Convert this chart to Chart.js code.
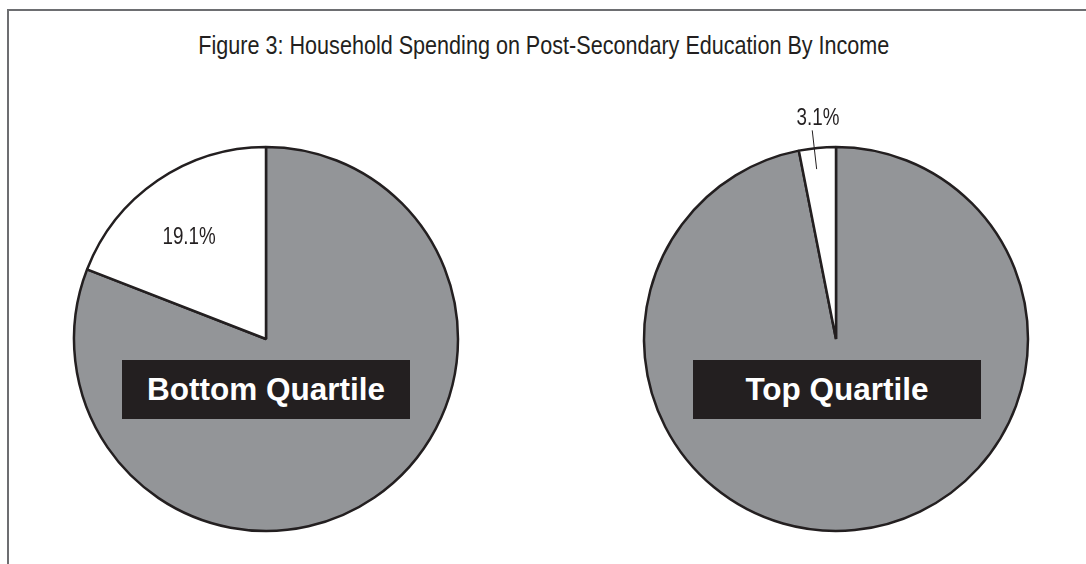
<!DOCTYPE html>
<html>
<head>
<meta charset="utf-8">
<script src="https://cdn.jsdelivr.net/npm/chart.js@4.4.1/dist/chart.umd.min.js"></script>
<style>
  html, body { margin: 0; padding: 0; background: #fff; }
  #page { position: relative; width: 1086px; height: 564px; overflow: hidden; }
  .frame-top { position: absolute; left: 7px; top: 9px; width: 1079px; height: 2px; background: #6d6e71; }
  .frame-left { position: absolute; left: 7px; top: 9px; width: 2px; height: 555px; background: #6d6e71; }
  /* no narrow face installed, so squeeze the regular one */
  #title {
    position: absolute; left: 0; top: 32px; width: 1086px; text-align: center;
    font: 26px/26px "Liberation Sans", Arial, sans-serif; color: #231f20;
    transform: scaleX(0.83); transform-origin: 548px 0;
    white-space: nowrap;
  }
  .pie { position: absolute; }
  .tag {
    position: absolute; top: 360px; width: 288px; height: 59px;
    background: #231f20; color: #fff;
    font: bold 31.5px "Liberation Sans", Arial, sans-serif;
    display: flex; align-items: center; justify-content: center;
  }
</style>
</head>
<body>
<div id="page">
  <div class="frame-top"></div>
  <div class="frame-left"></div>
  <div id="title">Figure 3: Household Spending on Post-Secondary Education By Income</div>
  <canvas id="pieBottom" class="pie" width="500" height="500" style="left:16px; top:89px;"></canvas>
  <canvas id="pieTop" class="pie" width="500" height="500" style="left:586px; top:89px;"></canvas>
  <div class="tag" style="left:122px;">Bottom Quartile</div>
  <div class="tag" style="left:693px;">Top Quartile</div>
</div>

<script>
// shares of household spending (%)
const categories = ["Other spending", "Post-secondary education"];
const bottomShares = [80.9, 19.1];
const topShares = [96.9, 3.1];
const sliceColors = ["#939598", "#ffffff"];

const INK = "#231f20";
const LABEL_FONT = '23.5px "Liberation Sans", Arial, sans-serif';
const NARROW = 0.8;
const BORDER = 2.5;
const CANVAS = 500;
const DIAMETER = 384;

function narrowText(ctx, text, x, y) {
  ctx.save();
  ctx.translate(x, y);
  ctx.scale(NARROW, 1);
  ctx.fillText(text, 0, 0);
  ctx.restore();
}

// writes the education share on its slice, inside or outside with a leader line
const shareLabel = {
  id: "shareLabel",
  afterDatasetsDraw(chart, args, opts) {
    const ctx = chart.ctx;
    const arc = chart.getDatasetMeta(0).data[1];
    const value = chart.data.datasets[0].data[1];
    const { x, y, startAngle, endAngle, outerRadius } = arc.getProps(
      ["x", "y", "startAngle", "endAngle", "outerRadius"], true);
    const mid = (startAngle + endAngle) / 2;
    const text = value.toFixed(1) + "%";

    ctx.save();
    ctx.fillStyle = INK;
    ctx.font = LABEL_FONT;
    ctx.textAlign = "center";
    ctx.textBaseline = "middle";
    if (opts.outside) {
      const a = mid - 0.016;
      const cos = Math.cos(a), sin = Math.sin(a);
      ctx.strokeStyle = INK;
      ctx.lineWidth = 1;
      ctx.beginPath();
      ctx.moveTo(x + cos * (outerRadius - 21), y + sin * (outerRadius - 21));
      ctx.lineTo(x + cos * (outerRadius + 18), y + sin * (outerRadius + 18));
      ctx.stroke();
      narrowText(ctx, text, x + Math.cos(mid) * (outerRadius + 34) + 4, y + Math.sin(mid) * (outerRadius + 34) + 4);
    } else {
      const r = outerRadius * 0.7;
      narrowText(ctx, text, x + Math.cos(mid) * r - 1, y + Math.sin(mid) * r + 9);
    }
    ctx.restore();
  }
};

function makePie(id, shares, outside) {
  return new Chart(document.getElementById(id), {
    type: "pie",
    data: {
      labels: categories,
      datasets: [{
        data: shares,
        backgroundColor: sliceColors,
        borderColor: INK,
        borderWidth: BORDER,
        borderAlign: "center"
      }]
    },
    options: {
      responsive: false,
      animation: false,
      layout: { padding: (CANVAS - DIAMETER - BORDER) / 2 },
      plugins: {
        legend: { display: false },
        tooltip: { enabled: false },
        shareLabel: { outside }
      }
    },
    plugins: [shareLabel]
  });
}

makePie("pieBottom", bottomShares, false);
makePie("pieTop", topShares, true);
</script>
</body>
</html>
